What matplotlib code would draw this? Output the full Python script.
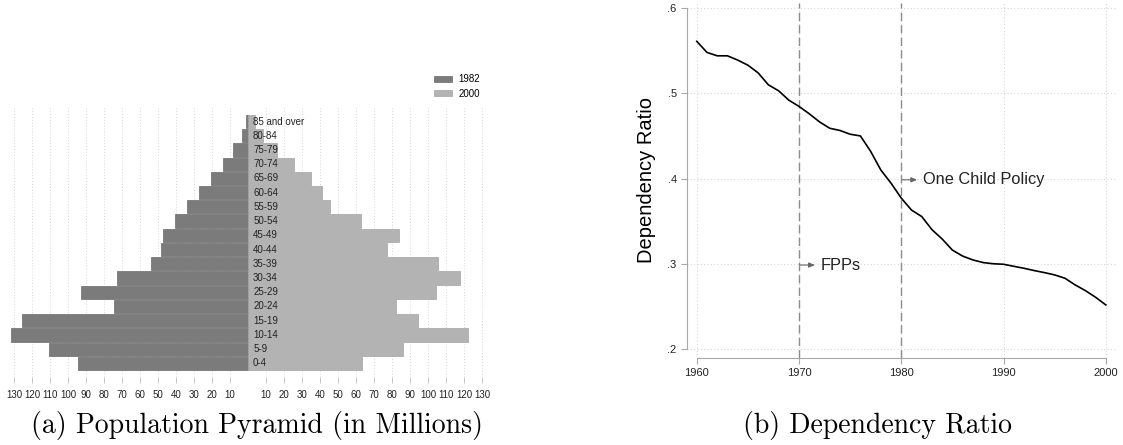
import numpy as np
import matplotlib
matplotlib.use("Agg")
import matplotlib.pyplot as plt
from matplotlib.patches import Patch

plt.rcParams['font.family'] = ['Liberation Sans', 'DejaVu Sans']

# Population by age group (millions)
age_groups = ["0-4", "5-9", "10-14", "15-19", "20-24", "25-29", "30-34", "35-39",
              "40-44", "45-49", "50-54", "55-59", "60-64", "65-69", "70-74",
              "75-79", "80-84", "85 and over"]
pop_1982 = [94.6, 110.6, 131.7, 125.4, 74.4, 92.6, 72.6, 53.9, 48.1, 47.4,
            40.6, 33.9, 27.2, 20.7, 14.0, 8.5, 3.3, 1.3]
pop_2000 = [63.5, 86.3, 122.4, 94.6, 82.0, 104.6, 118.0, 105.7, 77.4, 83.9,
            62.6, 45.6, 41.1, 35.0, 25.6, 15.9, 8.1, 4.1]
pyramid_ticks = [-130, -120, -110, -100, -90, -80, -70, -60, -50, -40, -30, -20, -10,
                 10, 20, 30, 40, 50, 60, 70, 80, 90, 100, 110, 120, 130]

# Dependency ratio, 1960-2000
years = list(range(1960, 2001))
dep_ratio = [0.561, 0.548, 0.544, 0.544, 0.539, 0.533, 0.524, 0.510, 0.503, 0.492,
             0.4846, 0.476, 0.4665, 0.459, 0.4564, 0.452, 0.450, 0.432, 0.410, 0.3945,
             0.377, 0.363, 0.3554, 0.340, 0.329, 0.316, 0.309, 0.3045, 0.3014, 0.300,
             0.2994, 0.297, 0.2947, 0.292, 0.2896, 0.2869, 0.283, 0.2752, 0.2685, 0.2607,
             0.2517]
policy_years = [1970, 1980]
policy_labels = ["FPPs", "One Child Policy"]
policy_label_y = [0.2985, 0.3985]

DARK = '#7b7b7b'
LIGHT = '#b3b3b3'
GRID = '#d6d6d6'
AXIS = '#a8a8a8'

fig = plt.figure(figsize=(11.23, 4.45), dpi=100)

# ---- (a) population pyramid ----
ax1 = fig.add_axes([0.00766, 0.1528, 0.4264, 0.6045])
ypos = np.arange(len(age_groups))
ax1.barh(ypos, [-v for v in pop_1982], height=0.93, color=DARK,
         edgecolor='#6a6a6a', linewidth=0.5, zorder=2, label='1982')
ax1.barh(ypos, pop_2000, height=0.93, color=LIGHT,
         edgecolor='#a3a3a3', linewidth=0.5, zorder=2, label='2000')
for y, lab in zip(ypos, age_groups):
    ax1.text(2.8, y, lab, fontsize=7, va='center', ha='left', color='#222222', zorder=3)
ax1.set_xlim(-133, 133)
ax1.set_ylim(-0.96, 17.95)
ax1.set_xticks(pyramid_ticks)
ax1.set_xticklabels([str(abs(t)) for t in pyramid_ticks], fontsize=7, color='#222222')
ax1.set_yticks([])
for s in ax1.spines.values():
    s.set_visible(False)
ax1.tick_params(axis='x', length=4, width=0.6, color='#bbbbbb', pad=5)
for t in pyramid_ticks:
    ax1.axvline(t, color=GRID, linestyle=(0, (1, 2)), linewidth=0.7, zorder=0)
ax1.legend(handles=[Patch(facecolor=DARK, edgecolor='#6a6a6a', linewidth=0.5, label='1982'),
                    Patch(facecolor=LIGHT, edgecolor='#a3a3a3', linewidth=0.5, label='2000')],
           loc='lower left', bbox_to_anchor=(0.888, 1.035), frameon=False, fontsize=7,
           handlelength=1.9, handleheight=0.65, handletextpad=0.6, labelspacing=0.45,
           borderpad=0, borderaxespad=0)

# ---- (b) dependency ratio ----
ax2 = fig.add_axes([0.6118, 0.1955, 0.3829, 0.7978])
ax2.plot(years, dep_ratio, color='black', linewidth=1.2, zorder=3)
for yr, lab, ly in zip(policy_years, policy_labels, policy_label_y):
    ax2.axvline(yr, color='#8c8c8c', linestyle=(0, (6, 3)), linewidth=1.0, zorder=2)
    ax2.annotate('', xy=(yr + 1.55, ly), xytext=(yr + 0.1, ly),
                 arrowprops=dict(arrowstyle='-|>,head_length=0.35,head_width=0.15',
                                 color='#666666', lw=0.8, shrinkA=0, shrinkB=0))
    ax2.text(yr + 2.1, ly, lab, fontsize=11.8, color='#222222', va='center', ha='left')
ax2.set_xlim(1959.05, 2001.1)
ax2.set_ylim(0.1894, 0.606)
ax2.set_xticks([1960, 1970, 1980, 1990, 2000])
ax2.set_yticks([0.2, 0.3, 0.4, 0.5, 0.6])
ax2.set_yticklabels(['.2', '.3', '.4', '.5', '.6'], fontsize=8)
ax2.set_xticklabels(['1960', '1970', '1980', '1990', '2000'], fontsize=8)
ax2.grid(True, color=GRID, linestyle=(0, (1, 2)), linewidth=0.8, zorder=0)
ax2.spines['top'].set_visible(False)
ax2.spines['right'].set_visible(False)
for s in ('left', 'bottom'):
    ax2.spines[s].set_color(AXIS)
    ax2.spines[s].set_linewidth(0.8)
ax2.spines['left'].set_bounds(0.2, 0.6)
ax2.spines['bottom'].set_bounds(1960, 2000)
ax2.tick_params(length=4, width=0.8, color=AXIS, labelcolor='#222222')
ax2.set_ylabel('Dependency Ratio', fontsize=14.5, labelpad=8)

# ---- captions ----
fig.text(0.2288, 0.043, '(a) Population Pyramid (in Millions)', fontfamily='cmr10',
         fontsize=20, ha='center', va='center')
fig.text(0.781, 0.043, '(b) Dependency Ratio', fontfamily='cmr10',
         fontsize=20, ha='center', va='center')

fig.savefig('out.png', dpi=100)
